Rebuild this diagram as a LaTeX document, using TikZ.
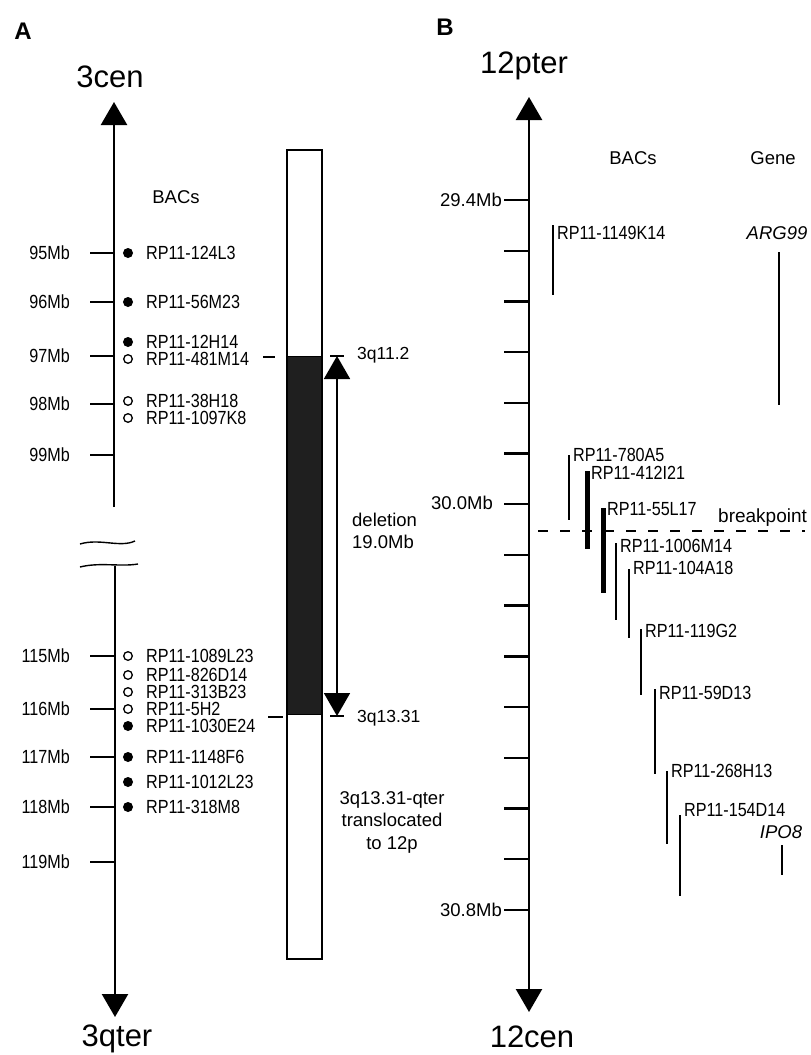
\documentclass[tikz,border=0pt]{standalone}
\usepackage{fontspec}
\setmainfont{Liberation Sans}
\newfontfamily\tallsf[FakeStretch=0.85]{Liberation Sans}
\usetikzlibrary{arrows.meta,calc}
\newcommand{\pxfont}[1]{\fontsize{#1}{#1}\selectfont}

\tikzset{
  lbl/.style={inner sep=0pt, font=\tallsf\pxfont{19}},
  mblbl/.style={lbl, anchor=east},
  baclbl/.style={lbl, anchor=west},
  biglbl/.style={inner sep=0pt, anchor=base, font=\pxfont{31}},
  headlbl/.style={inner sep=0pt, font=\pxfont{18.5}},
  axisline/.style={line width=2.4pt},
  bigtip/.style={-{Triangle[width=26pt,length=23pt]}},
  tickline/.style={line width=2.4pt},
  clone/.style={line width=2.4pt},
  fatclone/.style={line width=5pt}
}

\begin{document}
\begin{tikzpicture}[x=1pt,y=-1pt]
  \useasboundingbox (0,0) rectangle (811,1055);

  % panel A
  \node[inner sep=0pt, font=\pxfont{24}\bfseries] (labA) at (23,31) {A};
  \node[biglbl] (cen3) at (110,87) {3cen};
  \node[biglbl] (qter3) at (117,1046) {3qter};
  \coordinate (a top) at (114,102);
  \coordinate (a brk1) at (114,507);
  \coordinate (a brk2) at (115,566);
  \coordinate (a bot) at (115,1017);
  \draw[axisline,bigtip] (a brk1) -- (a top);
  \draw[axisline,bigtip] (a brk2) -- (a bot);
  \draw[line width=1.4pt] (80,544) .. controls (100,538) and (120,548) .. (135,541);
  \draw[line width=1.4pt] (80,567) .. controls (100,562) and (120,567) .. (138,564);

  \node[headlbl] (bacsA) at (176,197) {BACs};
  \foreach \v/\y in {95/253,96/302,97/356,98/404,99/455,115/656,116/709,117/757,118/807,119/862} {
    \draw[tickline] (90,\y) -- (114,\y);
    \node[mblbl] (mb\v) at (70,\y) {\v Mb};
  }
  \foreach \y/\t/\f in {253/124L3/black,302/56M23/black,342/12H14/black,359/481M14/white,
      401/38H18/white,418/1097K8/white,656/1089L23/white,675/826D14/white,692/313B23/white,
      709/5H2/white,726/1030E24/black,757/1148F6/black,782/1012L23/black,807/318M8/black} {
    \draw[line width=1.3pt, fill=\f] (128,\y) circle (4.3pt);
    \node[baclbl] (a\t) at (146,\y) {RP11-\t};
  }
  \draw[line width=1.2pt] (263,357) -- (275,357);
  \draw[line width=1.2pt] (268,717) -- (283,717);

  % chromosome 3
  \fill[black!88] (287,356) rectangle (322,714);
  \draw[line width=1.5pt] (287,150) rectangle (322,959);
  \draw[line width=1pt] (287,356) -- (322,356) (287,714) -- (322,714);

  \coordinate (del top) at (337,356);
  \coordinate (del bot) at (337,716);
  \draw[line width=1.8pt, {Triangle[width=26pt,length=23pt]}-{Triangle[width=26pt,length=23pt]}] (del top) -- (del bot);
  \draw[line width=1.2pt] ($(del top)+(-7,0)$) -- ($(del top)+(7,0)$);
  \draw[line width=1.2pt] ($(del bot)+(-7,0)$) -- ($(del bot)+(7,0)$);
  \node[headlbl, anchor=west, font=\pxfont{17.5}] (q112) at (357,355) {3q11.2};
  \node[headlbl, anchor=west, font=\pxfont{17.5}] (q1331) at (357,718) {3q13.31};
  \node[headlbl, anchor=west, align=left] (dellbl) at (352,531) {deletion\\[4pt]19.0Mb};
  \node[headlbl, align=center] (translbl) at (392,822) {3q13.31-qter\\[4pt]translocated\\[4pt]to 12p};

  % panel B
  \node[inner sep=0pt, font=\pxfont{24}\bfseries] (labB) at (445,27) {B};
  \node[biglbl] (pter12) at (524,73) {12pter};
  \node[biglbl] (cen12) at (532,1047) {12cen};
  \coordinate (b top) at (529,97);
  \coordinate (b bot) at (529,1012);
  \draw[axisline,{Triangle[width=26pt,length=23pt]}-{Triangle[width=26pt,length=23pt]}] (b top) -- (b bot);
  \foreach \i in {0,...,14}
    \draw[tickline] (504,{200+50.7*\i}) -- (529,{200+50.7*\i});
  \node[mblbl, font=\pxfont{18.5}] (mb294) at (502,200) {29.4Mb};
  \node[mblbl, font=\pxfont{18.5}] (mb300) at (493,503) {30.0Mb};
  \node[mblbl, font=\pxfont{18.5}] (mb308) at (502,910) {30.8Mb};

  \node[headlbl] (bacsB) at (633,158) {BACs};
  \node[headlbl] (geneB) at (773,158) {Gene};

  \draw[line width=2pt, dash pattern=on 10pt off 12pt] (538,531) -- (805,531);
  \node[headlbl, anchor=west, font=\pxfont{19}] (brk) at (718,518) {breakpoint};

  \foreach \x/\ya/\yb/\t/\s/\ly in {553/225/295/1149K14/clone/233,569/455/520/780A5/clone/455,
      587/471/549/412I21/fatclone/473,603/508/593/55L17/fatclone/509,616/543/620/1006M14/clone/546,
      629/569/638/104A18/clone/568,641/629/695/119G2/clone/631,655/689/774/59D13/clone/693,
      667/771/844/268H13/clone/771,680/815/896/154D14/clone/810} {
    \draw[\s] (\x,\ya) -- (\x,\yb);
    \node[baclbl] (b\t) at (\x+4,\ly) {RP11-\t};
  }

  \node[headlbl, font=\pxfont{18.5}\itshape] (arg99) at (777,233) {ARG99};
  \draw[clone] (779,252) -- (779,405);
  \node[headlbl, font=\pxfont{18.5}\itshape] (ipo8) at (781,832) {IPO8};
  \draw[clone] (782,845) -- (782,875);
\end{tikzpicture}
\end{document}
